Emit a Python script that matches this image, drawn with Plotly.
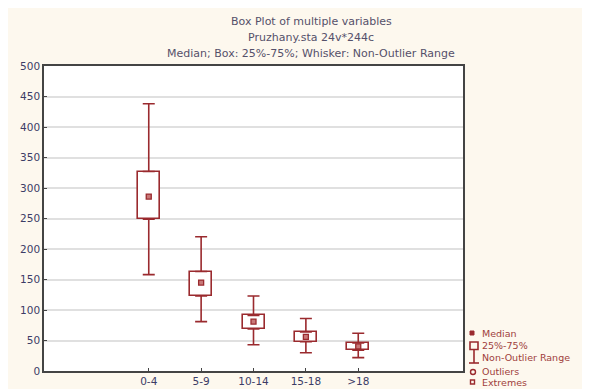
import plotly.graph_objects as go

categories = ["0-4", "5-9", "10-14", "15-18", ">18"]
positions = [1, 2, 3, 4, 5]
whisker_low = [158, 81, 43, 30, 22]
q1 = [249, 123, 69, 48, 34]
median = [286, 145, 81, 56, 40.5]
q3 = [327, 163, 91, 64, 46]
whisker_high = [438, 220, 123, 86, 62]
y_ticks = [0, 50, 100, 150, 200, 250, 300, 350, 400, 450, 500]
legend_labels = ["Median", "25%-75%", "Non-Outlier Range", "Outliers", "Extremes"]
title_lines = ["Box Plot of multiple variables", "Pruzhany.sta 24v*244c",
               "Median; Box: 25%-75%; Whisker: Non-Outlier Range"]

RED = "#9a2a2e"
FONT = "DejaVu Sans, Liberation Sans, sans-serif"
TICKC = "#3c3c66"

# page offset from default body margin
OFF = 8
# plot-area geometry in page pixels
L, R, T, B = 44, 463, 66, 371
W, H = 590 - OFF, 389 - OFF


def px(x):
    return (x - L) / (R - L)


def py(y):
    return (B - y) / (B - T)


fig = go.Figure()

fig.add_trace(go.Bar(
    x=positions, y=[b - a for a, b in zip(q1, q3)], base=q1, width=0.42,
    marker=dict(color="white", line=dict(color=RED, width=1.6)),
    showlegend=False, hoverinfo="skip"))

fig.add_trace(go.Scatter(
    x=positions, y=q3, mode="markers",
    marker=dict(size=1, color="rgba(0,0,0,0)"),
    error_y=dict(type="data", symmetric=False,
                 array=[h - t for h, t in zip(whisker_high, q3)],
                 arrayminus=[0] * 5, color=RED, thickness=1.6, width=6),
    showlegend=False, hoverinfo="skip"))

fig.add_trace(go.Scatter(
    x=positions, y=q1, mode="markers",
    marker=dict(size=1, color="rgba(0,0,0,0)"),
    error_y=dict(type="data", symmetric=False,
                 array=[0] * 5,
                 arrayminus=[a - l for a, l in zip(q1, whisker_low)],
                 color=RED, thickness=1.6, width=6),
    showlegend=False, hoverinfo="skip"))

fig.add_trace(go.Scatter(
    x=positions, y=median, mode="markers",
    marker=dict(symbol="square", size=5, color="#c87878", line=dict(color=RED, width=1.3)),
    showlegend=False))

shapes = []
shapes.append(dict(type="rect", xref="paper", yref="paper",
                   x0=px(470), x1=px(474), y0=py(335), y1=py(331),
                   fillcolor=RED, line=dict(color=RED, width=1)))
shapes.append(dict(type="rect", xref="paper", yref="paper",
                   x0=px(470), x1=px(478), y0=py(349.5), y1=py(342),
                   fillcolor="rgba(0,0,0,0)", line=dict(color=RED, width=1.6)))
shapes.append(dict(type="line", xref="paper", yref="paper",
                   x0=px(474), x1=px(474), y0=py(363), y1=py(349.5),
                   line=dict(color=RED, width=1.6)))
shapes.append(dict(type="line", xref="paper", yref="paper",
                   x0=px(469), x1=px(479), y0=py(363), y1=py(363),
                   line=dict(color=RED, width=1.6)))
shapes.append(dict(type="circle", xref="paper", yref="paper",
                   x0=px(470.5), x1=px(475.5), y0=py(374.5), y1=py(369.5),
                   line=dict(color=RED, width=1.4)))
shapes.append(dict(type="rect", xref="paper", yref="paper",
                   x0=px(470.5), x1=px(474.5), y0=py(384), y1=py(380),
                   fillcolor="rgba(0,0,0,0)", line=dict(color=RED, width=1.4)))

annotations = []
for label, yy in zip(legend_labels, [333, 345, 357, 371, 382]):
    annotations.append(dict(text=label, xref="paper", yref="paper",
                            x=px(481), y=py(yy), xanchor="left", yanchor="middle",
                            showarrow=False, borderpad=0,
                            font=dict(size=9.5, color="#a0403c")))
for i, t in enumerate(title_lines):
    annotations.append(dict(text=t, xref="paper", yref="paper",
                            x=px(311), y=py(21 + 16 * i),
                            xanchor="center", yanchor="middle", showarrow=False,
                            font=dict(size=11, color="#55506a")))

fig.update_layout(
    width=W, height=H,
    paper_bgcolor="#fdf8ee", plot_bgcolor="white",
    margin=dict(l=L - OFF, r=590 - R, t=T - OFF, b=389 - B, autoexpand=False),
    font=dict(family=FONT, size=10.5, color=TICKC),
    showlegend=False,
    bargap=0,
    shapes=shapes,
    annotations=annotations,
)

fig.update_xaxes(
    range=[-1, 7], tickvals=positions, ticktext=categories,
    showgrid=False, zeroline=False, automargin=False,
    showline=True, linecolor="#444", linewidth=1.5, mirror=True,
    ticks="inside", ticklen=3, tickcolor="#444",
    tickfont=dict(size=10.5, color=TICKC))
fig.update_yaxes(
    range=[0, 500], tickvals=y_ticks,
    showgrid=True, gridcolor="#e0e0e0", gridwidth=1.5, zeroline=False, automargin=False,
    showline=True, linecolor="#444", linewidth=1.5, mirror=True,
    ticks="inside", ticklen=3, tickcolor="#444",
    tickfont=dict(size=10.5, color=TICKC))

fig.write_html("out.html")
